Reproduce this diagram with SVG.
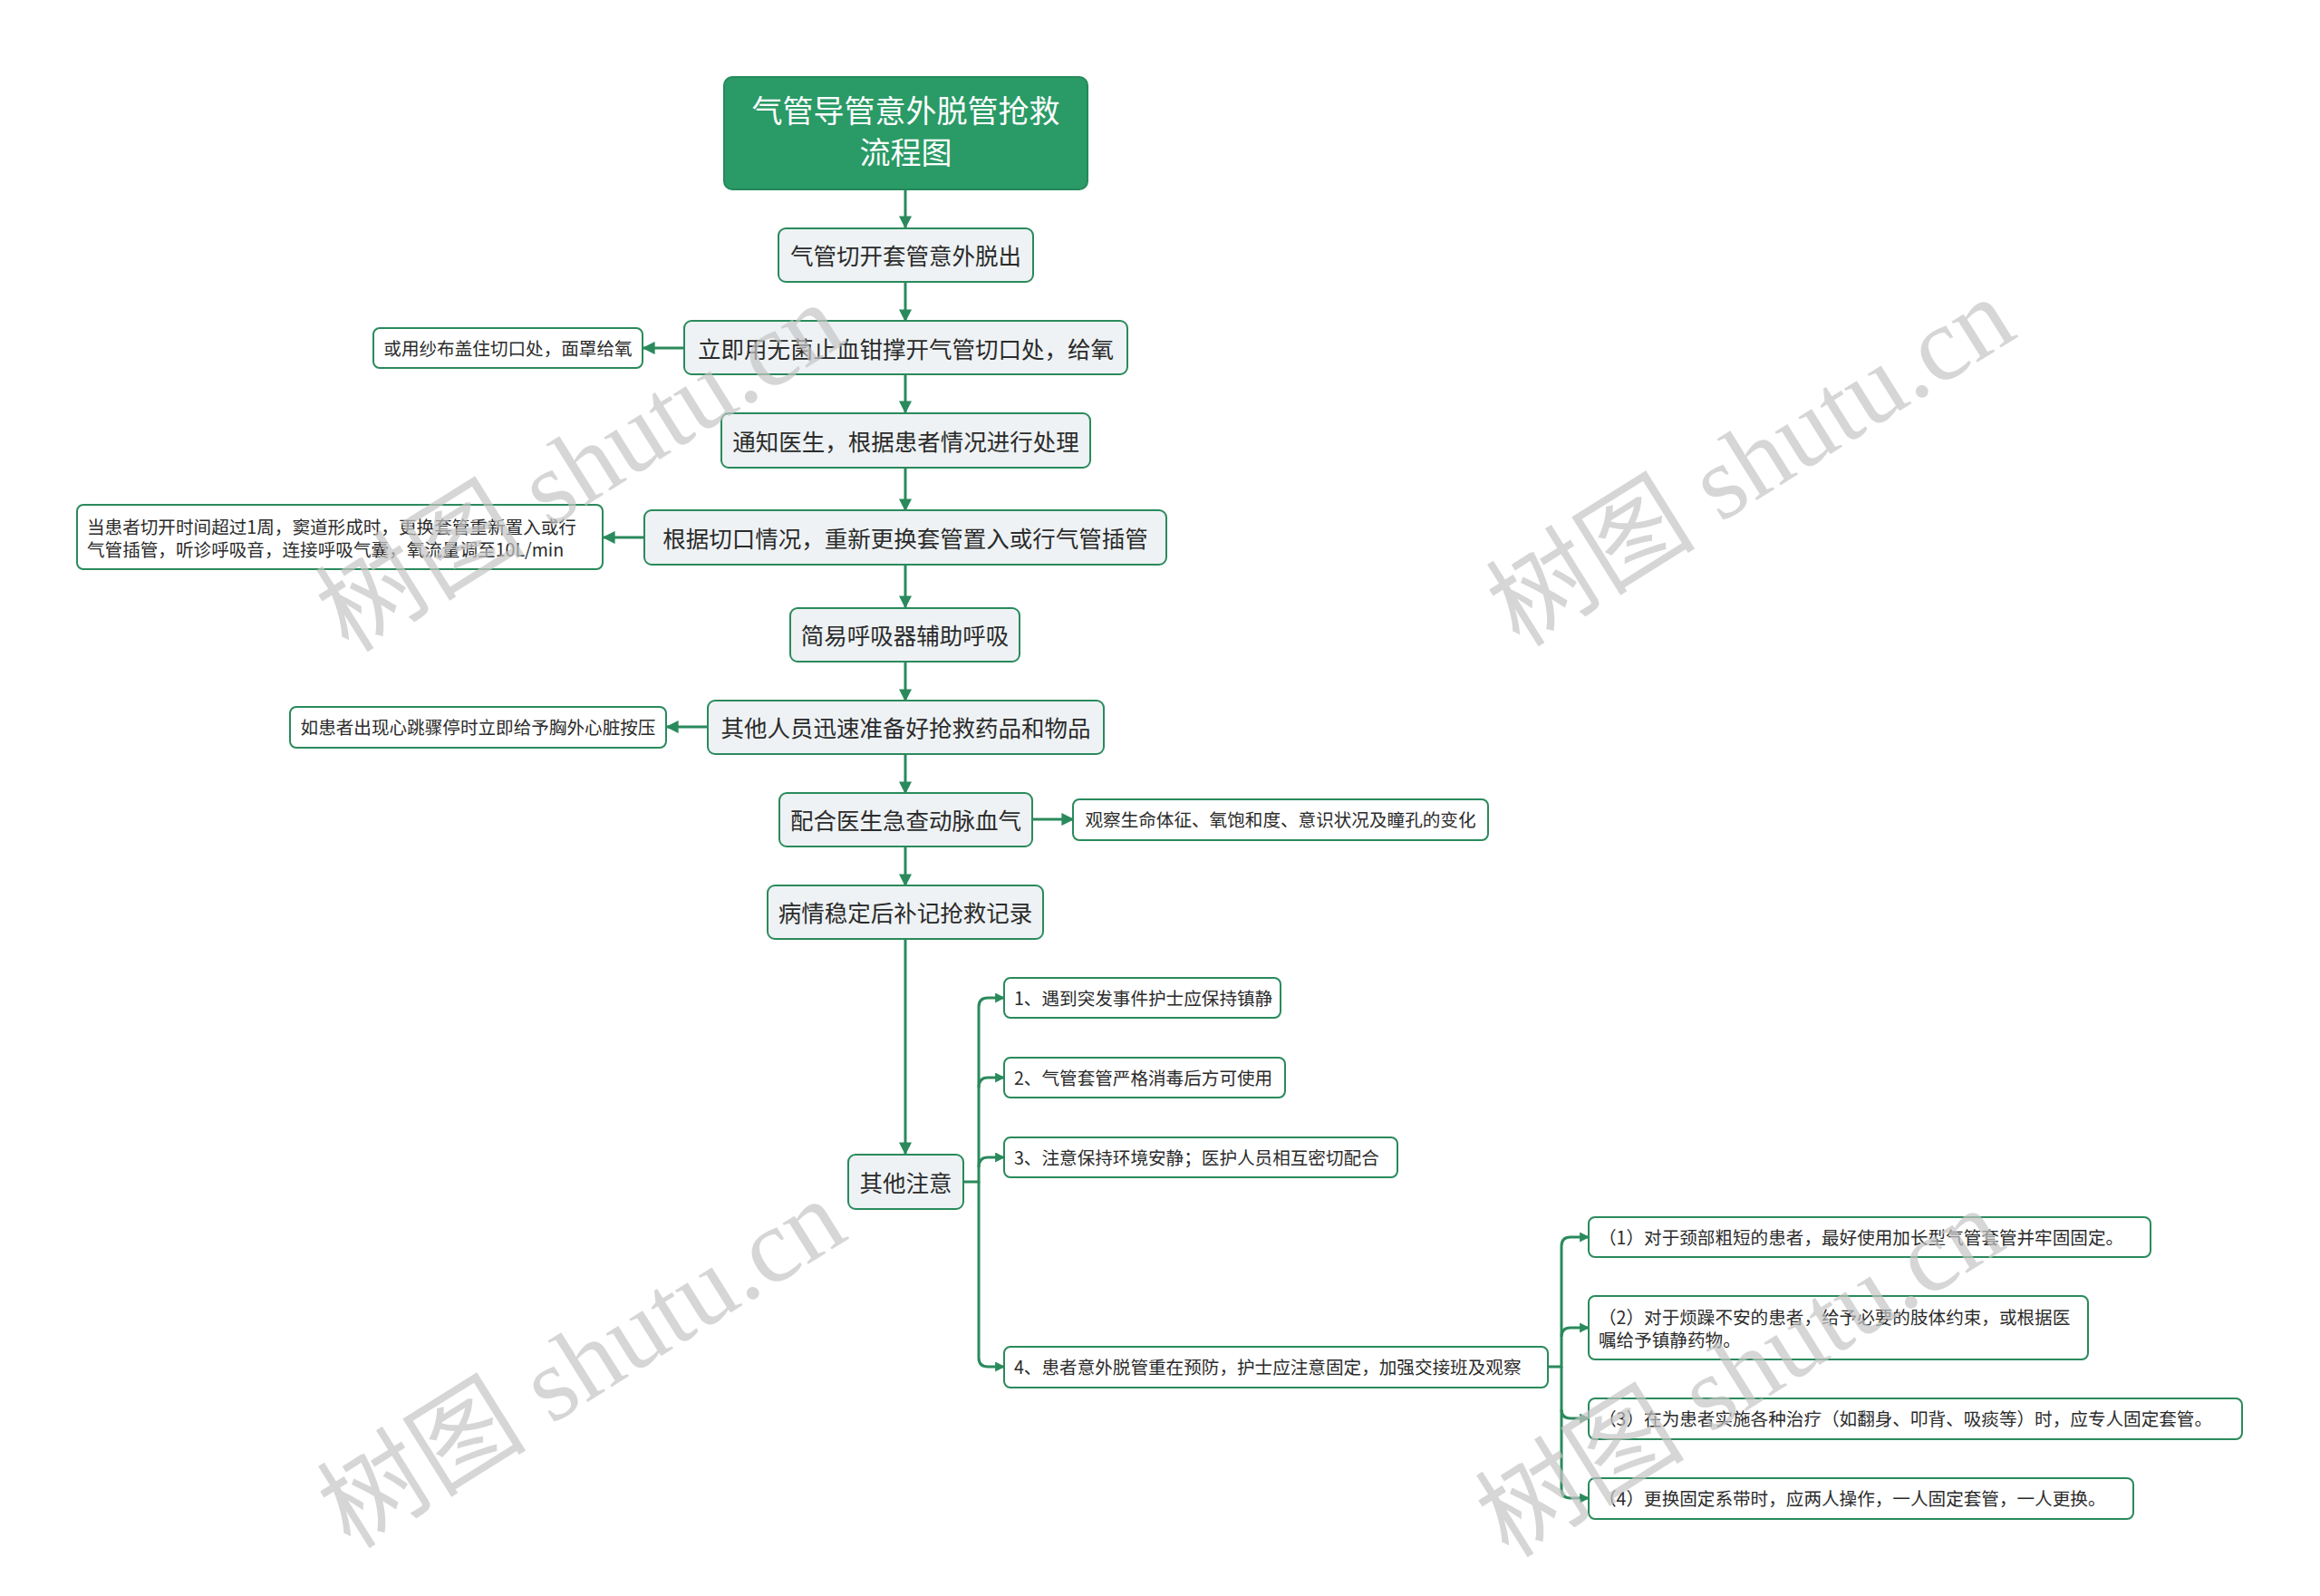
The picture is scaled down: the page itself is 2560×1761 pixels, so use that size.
<svg xmlns="http://www.w3.org/2000/svg" width="2560" height="1761" viewBox="0 0 2560 1761">
<defs>
<style>
.bg{fill:#ffffff}
.title rect{fill:#2a9a66;stroke:#248a5a;stroke-width:2}
.title text{fill:#ffffff;font-size:34px}
.main rect{fill:#eef2f4;stroke:#2a8a5c;stroke-width:2}
.sub rect{fill:#ffffff;stroke:#2a8a5c;stroke-width:2}
text{font-family:"Noto Sans CJK SC","Noto Sans",sans-serif;fill:#2b2b2b;dominant-baseline:central}
.main text{font-size:25.5px;text-anchor:middle}
.sub text{font-size:19.6px}
.c{text-anchor:middle}
.conn path{fill:none;stroke:#2a8a5c;stroke-width:3}
.wm{font-family:"Liberation Serif","Noto Sans CJK SC",serif;font-size:116px;fill:#c4c4c4;fill-opacity:0.7}
</style>
<marker id="ah" viewBox="0 0 10 10" refX="9" refY="5" markerWidth="14" markerHeight="14" markerUnits="userSpaceOnUse" orient="auto">
<path d="M0,0 L10,5 L0,10 Z" fill="#2a8a5c"/>
</marker>
<marker id="ahs" viewBox="0 0 10 10" refX="9" refY="5" markerWidth="11" markerHeight="11" markerUnits="userSpaceOnUse" orient="auto">
<path d="M0,0 L10,5 L0,10 Z" fill="#2a8a5c"/>
</marker>
</defs>
<rect class="bg" x="0" y="0" width="2560" height="1761"/>

<g class="conn" id="connectors">
<path d="M999,209 V251" marker-end="url(#ah)"/>
<path d="M999,311 V354" marker-end="url(#ah)"/>
<path d="M755,384 H710" marker-end="url(#ah)"/>
<path d="M999,413 V455" marker-end="url(#ah)"/>
<path d="M999,516 V563" marker-end="url(#ah)"/>
<path d="M711,593 H666" marker-end="url(#ah)"/>
<path d="M999,623 V670" marker-end="url(#ah)"/>
<path d="M999,730 V773" marker-end="url(#ah)"/>
<path d="M781,802 H736" marker-end="url(#ah)"/>
<path d="M999,832 V875" marker-end="url(#ah)"/>
<path d="M1139,904 H1184" marker-end="url(#ah)"/>
<path d="M999,934 V977" marker-end="url(#ah)"/>
<path d="M999,1036 V1273" marker-end="url(#ah)"/>
<path d="M1063,1304 H1080 V1111 Q1080,1101 1090,1101 H1108" marker-end="url(#ahs)"/>
<path d="M1080,1200 Q1080,1189 1090,1189 H1108" marker-end="url(#ahs)"/>
<path d="M1080,1288 Q1080,1277 1090,1277 H1108" marker-end="url(#ahs)"/>
<path d="M1080,1304 V1498 Q1080,1508 1090,1508 H1108" marker-end="url(#ahs)"/>
<path d="M1708,1508 H1723 V1375 Q1723,1365 1733,1365 H1753" marker-end="url(#ahs)"/>
<path d="M1723,1475 Q1723,1465 1733,1465 H1753" marker-end="url(#ahs)"/>
<path d="M1723,1508 V1555 Q1723,1565 1733,1565 H1753" marker-end="url(#ahs)"/>
<path d="M1723,1555 V1643 Q1723,1653 1733,1653 H1753" marker-end="url(#ahs)"/>
</g>

<g id="n0" class="title">
<rect x="799" y="85" width="401" height="124" rx="9"/>
<text x="999.5" y="120" text-anchor="middle">气管导管意外脱管抢救</text>
<text x="999.5" y="166" text-anchor="middle">流程图</text>
</g>
<g id="n1" class="main"><rect x="859" y="252" width="281" height="59" rx="8"/><text x="999.5" y="280">气管切开套管意外脱出</text></g>
<g id="n2" class="main"><rect x="755" y="354" width="489" height="59" rx="8"/><text x="999.5" y="383">立即用无菌止血钳撑开气管切口处，给氧</text></g>
<g id="n2a" class="sub"><rect x="412" y="362" width="297" height="44" rx="7"/><text class="c" x="560.5" y="383">或用纱布盖住切口处，面罩给氧</text></g>
<g id="n3" class="main"><rect x="796" y="456" width="407" height="60" rx="8"/><text x="999.5" y="485">通知医生，根据患者情况进行处理</text></g>
<g id="n4" class="main"><rect x="711" y="563" width="576" height="60" rx="8"/><text x="999" y="592">根据切口情况，重新更换套管置入或行气管插管</text></g>
<g id="n4a" class="sub"><rect x="85" y="557" width="580" height="71" rx="7"/><text x="96" y="580">当患者切开时间超过1周，窦道形成时，更换套管重新置入或行</text><text x="96" y="605">气管插管，听诊呼吸音，连接呼吸气囊，氧流量调至10L/min</text></g>
<g id="n5" class="main"><rect x="872" y="671" width="253" height="59" rx="8"/><text x="998.5" y="699">简易呼吸器辅助呼吸</text></g>
<g id="n6" class="main"><rect x="781" y="773" width="437" height="59" rx="8"/><text x="999.5" y="801">其他人员迅速准备好抢救药品和物品</text></g>
<g id="n6a" class="sub"><rect x="320" y="780" width="415" height="45" rx="7"/><text class="c" x="527.5" y="801">如患者出现心跳骤停时立即给予胸外心脏按压</text></g>
<g id="n7" class="main"><rect x="860" y="875" width="279" height="59" rx="8"/><text x="999.5" y="903">配合医生急查动脉血气</text></g>
<g id="n7a" class="sub"><rect x="1184" y="882" width="458" height="45" rx="7"/><text class="c" x="1413" y="903">观察生命体征、氧饱和度、意识状况及瞳孔的变化</text></g>
<g id="n8" class="main"><rect x="847" y="977" width="304" height="59" rx="8"/><text x="999" y="1005">病情稳定后补记抢救记录</text></g>
<g id="n9" class="main"><rect x="936" y="1274" width="127" height="60" rx="8"/><text x="999.5" y="1303">其他注意</text></g>
<g id="s1" class="sub"><rect x="1108" y="1079" width="305" height="44" rx="7"/><text x="1119" y="1100">1、遇到突发事件护士应保持镇静</text></g>
<g id="s2" class="sub"><rect x="1108" y="1167" width="310" height="44" rx="7"/><text x="1119" y="1188">2、气管套管严格消毒后方可使用</text></g>
<g id="s3" class="sub"><rect x="1108" y="1255" width="434" height="44" rx="7"/><text x="1119" y="1276">3、注意保持环境安静；医护人员相互密切配合</text></g>
<g id="s4" class="sub"><rect x="1108" y="1486" width="600" height="45" rx="7"/><text x="1119" y="1507">4、患者意外脱管重在预防，护士应注意固定，加强交接班及观察</text></g>
<g id="t1" class="sub"><rect x="1753" y="1343" width="620" height="44" rx="7"/><text x="1764" y="1364">（1）对于颈部粗短的患者，最好使用加长型气管套管并牢固固定。</text></g>
<g id="t2" class="sub"><rect x="1753" y="1430" width="551" height="70" rx="7"/><text x="1764" y="1452">（2）对于烦躁不安的患者，给予必要的肢体约束，或根据医</text><text x="1764" y="1477">嘱给予镇静药物。</text></g>
<g id="t3" class="sub"><rect x="1753" y="1543" width="721" height="45" rx="7"/><text x="1764" y="1564">（3）在为患者实施各种治疗（如翻身、叩背、吸痰等）时，应专人固定套管。</text></g>
<g id="t4" class="sub"><rect x="1753" y="1631" width="601" height="45" rx="7"/><text x="1764" y="1652">（4）更换固定系带时，应两人操作，一人固定套管，一人更换。</text></g>

<g id="watermarks">
<text class="wm" text-anchor="middle" transform="translate(640,516) rotate(-32)">树图 shutu.cn</text>
<text class="wm" text-anchor="middle" transform="translate(1932,510) rotate(-32)">树图 shutu.cn</text>
<text class="wm" text-anchor="middle" transform="translate(642,1505) rotate(-32)">树图 shutu.cn</text>
<text class="wm" text-anchor="middle" transform="translate(1920,1515) rotate(-32)">树图 shutu.cn</text>
</g>
</svg>
